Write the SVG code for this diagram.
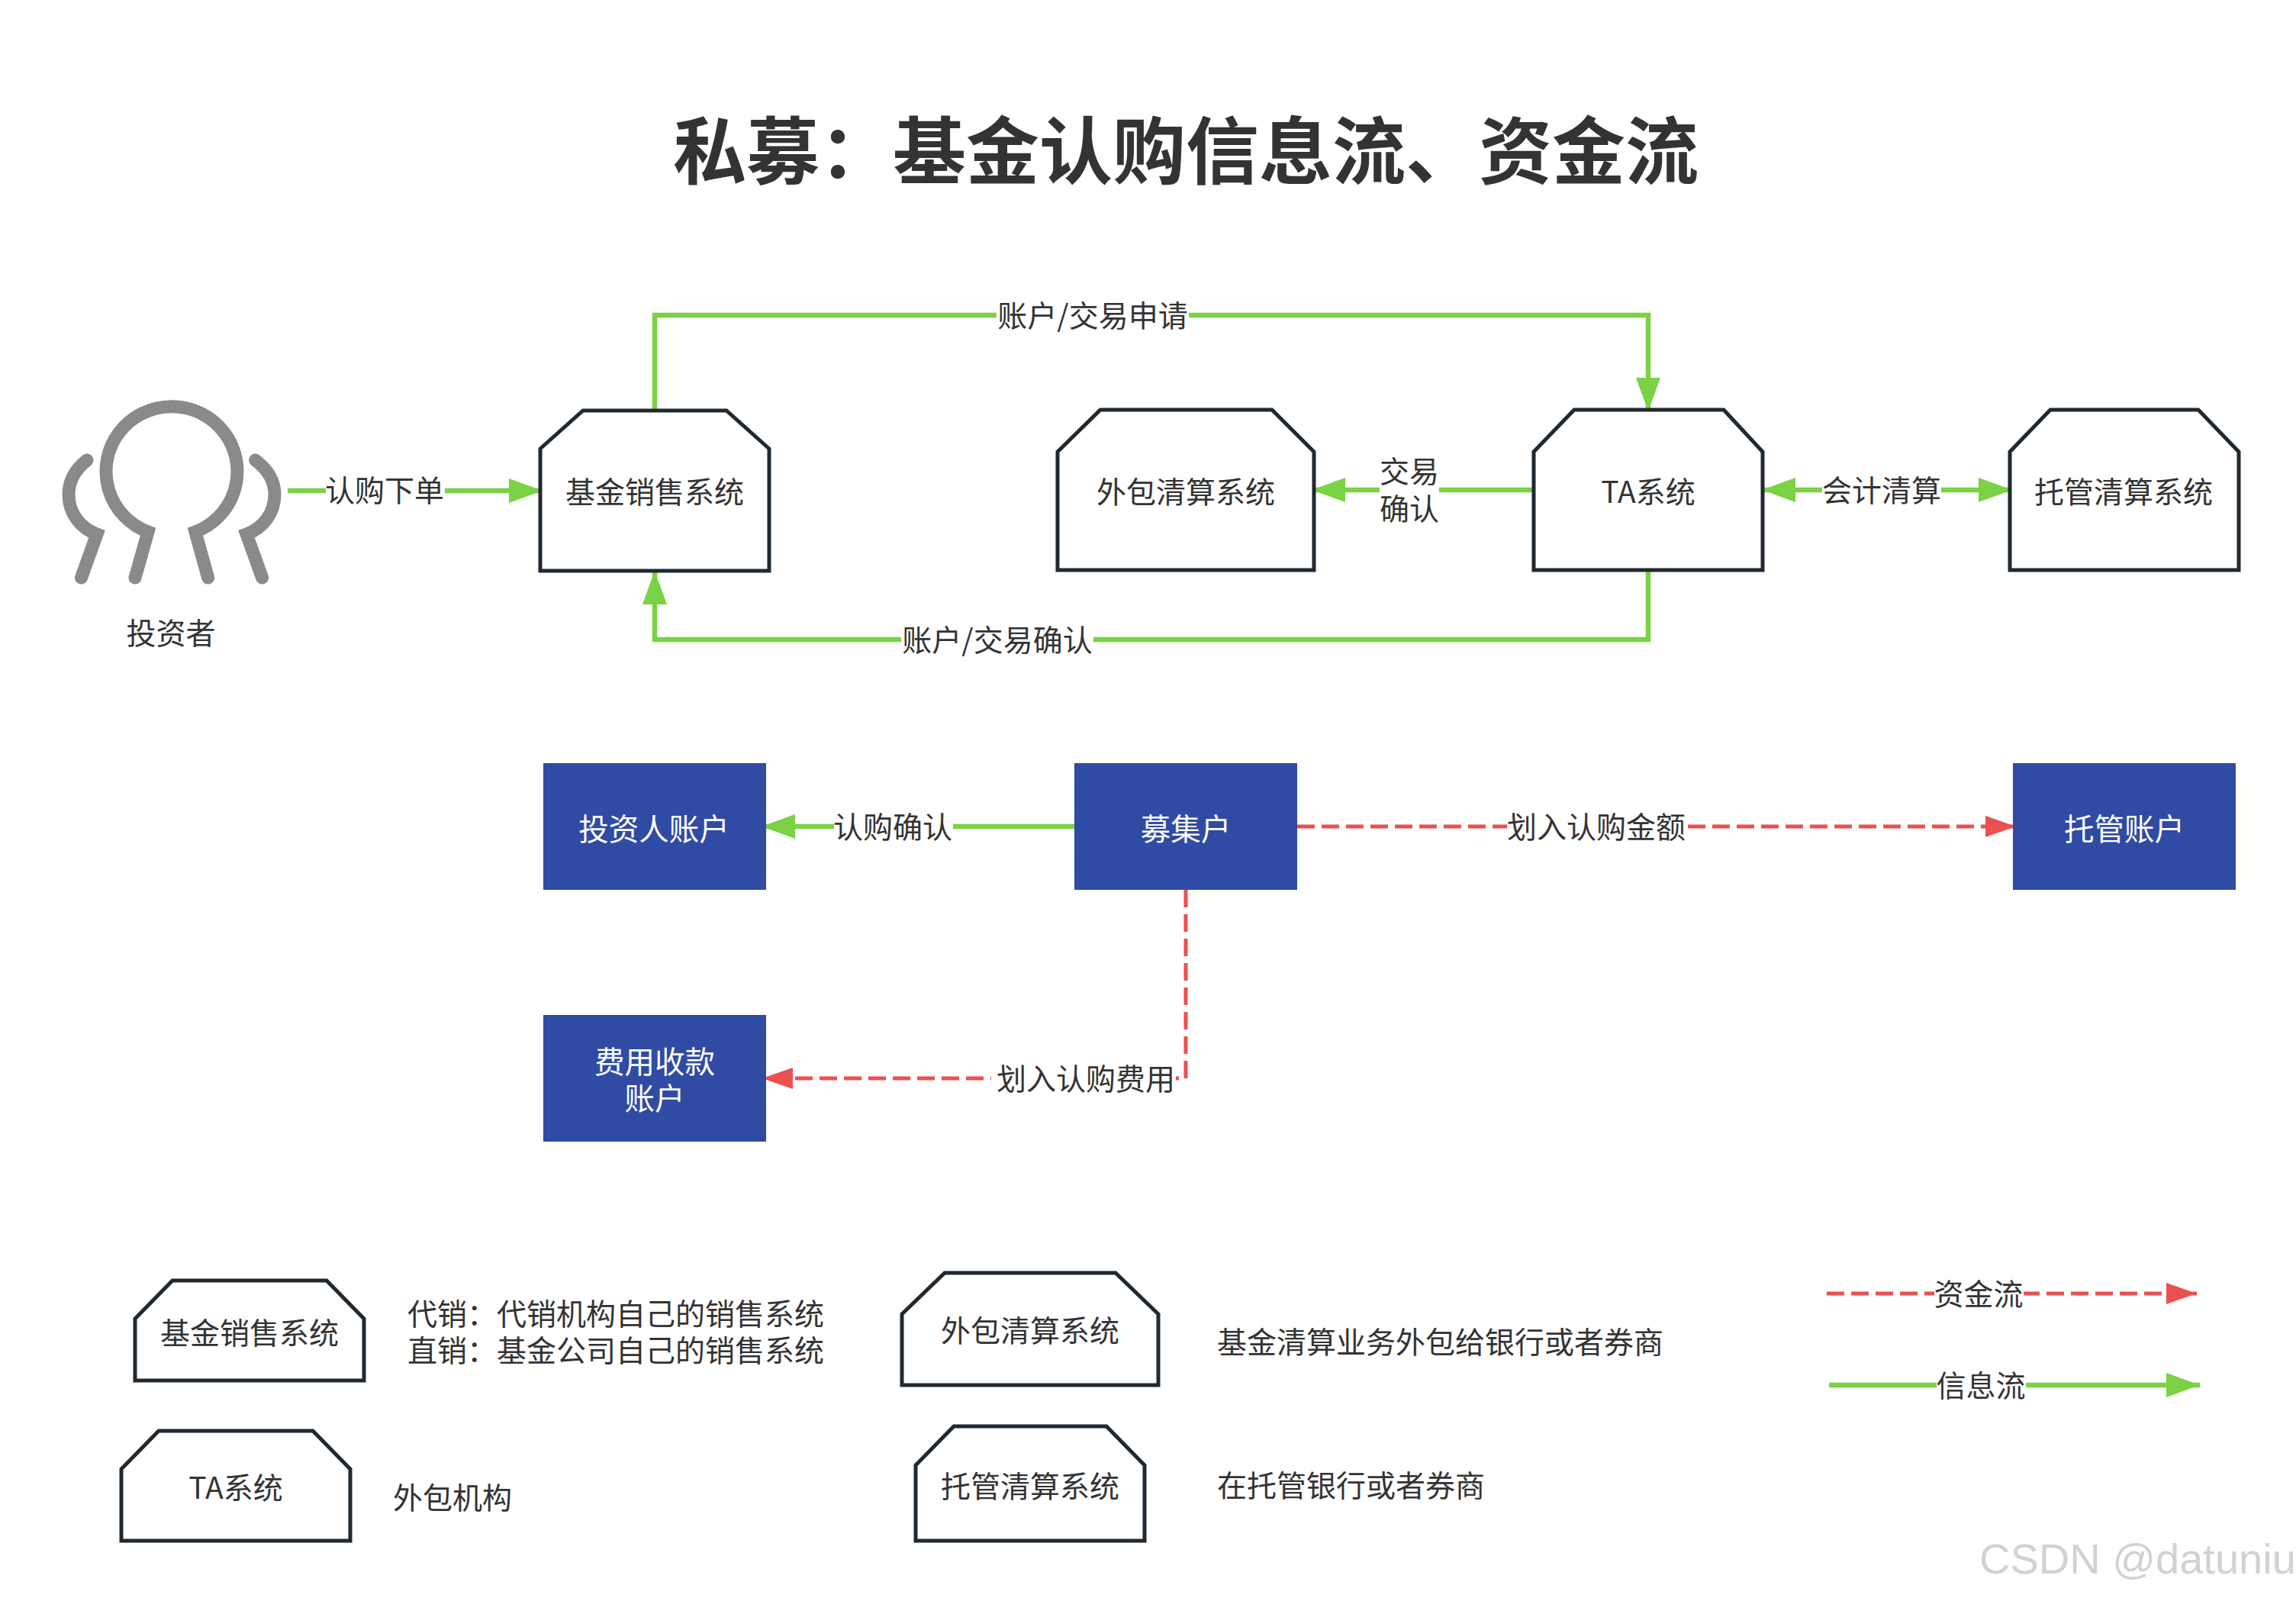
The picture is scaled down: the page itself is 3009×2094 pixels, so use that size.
<svg xmlns="http://www.w3.org/2000/svg" width="3009" height="2094" viewBox="0 0 3009 2094">
<style>
text{font-family:"Noto Sans CJK SC","Liberation Sans",sans-serif;font-size:39px;fill:#333;text-anchor:middle;dominant-baseline:central}
.l{text-anchor:start}
.w{fill:#fff;font-size:39.500px}
.sys{fill:#fff;stroke:#212930;stroke-width:5;stroke-linejoin:miter}
.acc{fill:#304ba3}
.g{fill:none;stroke:#7ad244;stroke-width:6.500}
.r{fill:none;stroke:#eb5050;stroke-width:5;stroke-dasharray:23 9}
.bg{fill:#fff}
.ic{fill:none;stroke:#8a8a8a;stroke-width:17;stroke-linecap:round;stroke-linejoin:miter}
</style>
<defs>
<marker id="ag" markerUnits="userSpaceOnUse" markerWidth="46" markerHeight="34" refX="44" refY="17" orient="auto-start-reverse"><path d="M0 1L44 17L0 33Z" fill="#7ad244"/></marker>
<marker id="ar" markerUnits="userSpaceOnUse" markerWidth="44" markerHeight="32" refX="40" refY="16" orient="auto-start-reverse"><path d="M0 2L40 16L0 30Z" fill="#eb5050"/></marker>
</defs>
<rect width="3009" height="2094" fill="#fff"/>
<text id="title" x="1554" y="191" style="font-size:96px;font-weight:700">私募&#65306;基金认购信息流、资金流</text>
<g id="connectors">
<path class="g" d="M377 643H711" marker-end="url(#ag)"/>
<path class="g" d="M858 538V413H2160V539" marker-end="url(#ag)"/>
<path class="g" d="M2160 747V838H858V748" marker-end="url(#ag)"/>
<path class="g" d="M2009 642H1719" marker-end="url(#ag)"/>
<path class="g" d="M2309 642H2637" marker-start="url(#ag)" marker-end="url(#ag)"/>
<path class="g" d="M1408 1083H998" marker-end="url(#ag)"/>
<path class="r" d="M1700 1083H2642" marker-end="url(#ar)"/>
<path class="r" d="M1554 1166V1413H999" marker-end="url(#ar)"/>
<path class="r" d="M2394 1695H2879" marker-end="url(#ar)"/>
<path class="g" d="M2397 1815H2883" marker-end="url(#ag)"/>
<g id="edge-labels">
<rect class="bg" x="427" y="620" width="156" height="46"/><text x="504" y="640">认购下单</text>
<rect class="bg" x="1306" y="390" width="252" height="46"/><text x="1432" y="411">账户/交易申请</text>
<rect class="bg" x="1181" y="815" width="252" height="46"/><text x="1307" y="836">账户/交易确认</text>
<rect class="bg" x="1808" y="596" width="78" height="92"/><text x="1847" y="615">交易<tspan x="1847" dy="49">确认</tspan></text>
<rect class="bg" x="2388" y="619" width="156" height="46"/><text x="2466" y="640">会计清算</text>
<rect class="bg" x="1093" y="1059" width="156" height="46"/><text x="1170" y="1081">认购确认</text>
<rect class="bg" x="1975" y="1059" width="234" height="46"/><text x="2092" y="1081">划入认购金额</text>
<rect class="bg" x="1299" y="1389" width="242" height="46"/><text x="1423" y="1411">划入认购费用</text>
<rect class="bg" x="2535" y="1672" width="117" height="46"/><text x="2593" y="1693">资金流</text>
<rect class="bg" x="2538" y="1792" width="117" height="46"/><text x="2596" y="1813">信息流</text>
</g>
</g>
<g id="investor">
<path class="ic" d="M177 757L194 697A86 85 0 1 1 256 697L272.600 757"/>
<path class="ic" d="M114 603Q90 622 90 648C90 672 105 692 127 700L106.500 757"/>
<path class="ic" d="M334.600 603Q360 622 360 648C360 672 345 692 323 700L343.600 757"/>
<text x="224" y="827">投资者</text>
</g>
<g id="sales"><path class="sys" d="M708 588L764 538H952L1008 588V748H708Z"/><text x="858" y="642">基金销售系统</text></g>
<g id="outsource"><path class="sys" d="M1386 592L1442 537H1667L1722 592V747H1386Z"/><text x="1554" y="642">外包清算系统</text></g>
<g id="ta"><path class="sys" d="M2010 592L2063 537H2259L2310 592V747H2010Z"/><text x="2160" y="642">TA系统</text></g>
<g id="custody"><path class="sys" d="M2634 592L2687 537H2881L2934 592V747H2634Z"/><text x="2783" y="642">托管清算系统</text></g>
<g id="investor-account"><rect class="acc" x="712" y="1000" width="292" height="166"/><text class="w" x="857" y="1083">投资人账户</text></g>
<g id="raise-account"><rect class="acc" x="1408" y="1000" width="292" height="166"/><text class="w" x="1554" y="1083">募集户</text></g>
<g id="custody-account"><rect class="acc" x="2638" y="1000" width="292" height="166"/><text class="w" x="2784" y="1083">托管账户</text></g>
<g id="fee-account"><rect class="acc" x="712" y="1330" width="292" height="166"/><text class="w" x="858" y="1388">费用收款<tspan x="858" dy="48">账户</tspan></text></g>
<g id="legend-sales"><path class="sys" d="M177 1728L226 1678H428L477 1728V1809H177Z"/><text x="327" y="1744">基金销售系统</text></g>
<g id="legend-ta"><path class="sys" d="M159 1925L208 1875H410L459 1925V2019H159Z"/><text x="309" y="1947">TA系统</text></g>
<g id="legend-outsource"><path class="sys" d="M1182 1722L1238 1668H1462L1518 1722V1815H1182Z"/><text x="1350" y="1741">外包清算系统</text></g>
<g id="legend-custody"><path class="sys" d="M1200 1920L1250 1869H1450L1500 1920V2019H1200Z"/><text x="1350" y="1945">托管清算系统</text></g>
<text class="l" x="534" y="1719">代销&#65306;代销机构自己的销售系统<tspan x="534" dy="48">直销&#65306;基金公司自己的销售系统</tspan></text>
<text class="l" x="515" y="1960">外包机构</text>
<text class="l" x="1595" y="1756">基金清算业务外包给银行或者券商</text>
<text class="l" x="1595" y="1944">在托管银行或者券商</text>
<text id="watermark" class="l" x="2594" y="2042" style="font-family:'Liberation Sans',sans-serif;font-size:56px;fill:#d2d2d2">CSDN @datuniu</text>
</svg>
